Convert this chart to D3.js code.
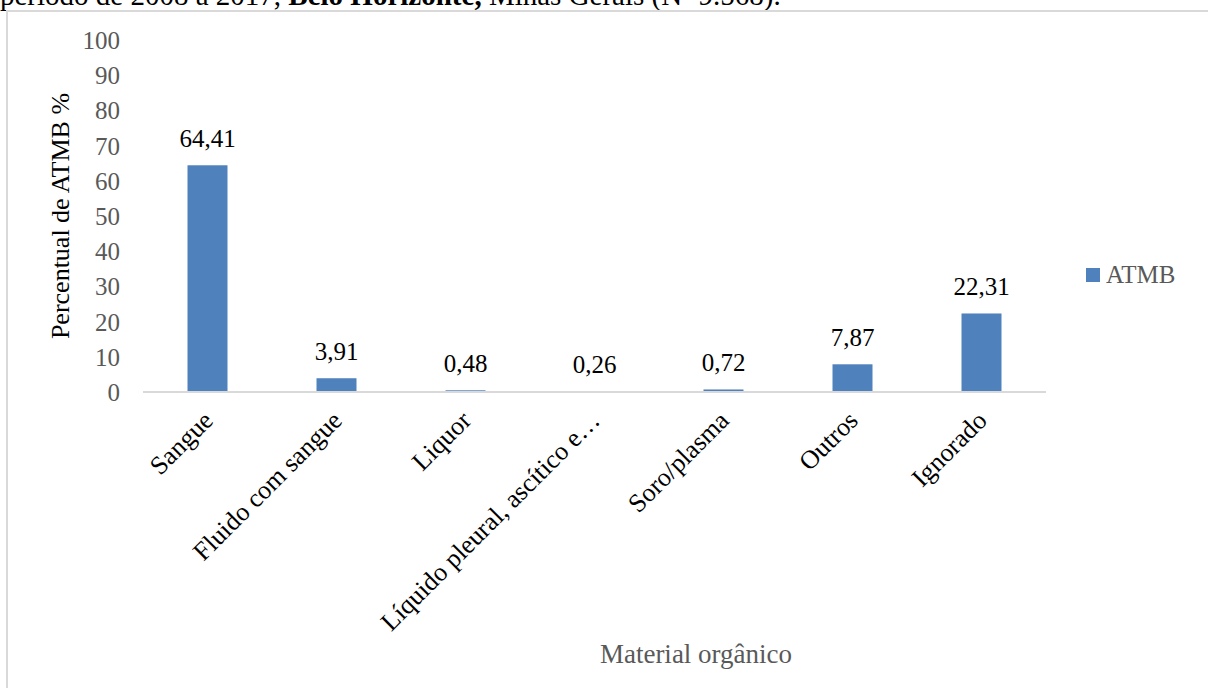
<!DOCTYPE html>
<html>
<head>
<meta charset="utf-8">
<script src="https://cdn.jsdelivr.net/npm/d3@7"></script>
<style>
  html, body { margin: 0; padding: 0; background: #fff; }
  svg { display: block; }
  svg text { font-family: "Liberation Serif", "Times New Roman", serif !important; }
</style>
</head>
<body>
<svg id="chart" width="1208" height="688"></svg>
<script>
const categories = ["Sangue", "Fluido com sangue", "Liquor", "Líquido pleural, ascítico e…", "Soro/plasma", "Outros", "Ignorado"];
const values = [64.41, 3.91, 0.48, 0.26, 0.72, 7.87, 22.31];
const valueLabels = ["64,41", "3,91", "0,48", "0,26", "0,72", "7,87", "22,31"];
const yTicks = [0, 10, 20, 30, 40, 50, 60, 70, 80, 90, 100];
const seriesName = "ATMB";
const yTitle = "Percentual de ATMB %";
const xTitle = "Material orgânico";
const captionParts = ["período de 2008 a 2017, ", "Belo Horizonte,", " Minas Gerais (N=9.568)."];
const captionBold = [false, true, false];

const svg = d3.select("#chart");
const margin = { left: 143, right: 1046, top: 40, bottom: 392 };

// caption (cut off at top)
const cap = svg.append("text").attr("x", 0).attr("y", 5)
  .attr("font-size", 29).attr("fill", "#000").attr("xml:space", "preserve")
  .style("white-space", "pre");
cap.selectAll("tspan").data(captionParts).join("tspan")
  .attr("font-weight", (d, i) => captionBold[i] ? "bold" : "normal")
  .text(d => d);

// frame
svg.append("rect").attr("x", 7).attr("y", 11).attr("width", 1220).attr("height", 700)
  .attr("fill", "none").attr("stroke", "#D9D9D9").attr("stroke-width", 2);

const x = d3.scaleBand().domain(categories).range([margin.left, margin.right]).paddingInner(0.69).paddingOuter(0.345);
const y = d3.scaleLinear().domain([0, 100]).range([margin.bottom, margin.top]);

// y axis (labels only)
const yAxis = d3.axisLeft(y).tickValues(yTicks).tickSize(0).tickPadding(0).tickFormat(d3.format("d"));
const gy = svg.append("g").attr("transform", "translate(120,0)").call(yAxis);
gy.select(".domain").remove();
gy.selectAll("text").attr("font-size", 25).attr("fill", "#595959").attr("dy", "0.34em");

// bars
svg.append("g").selectAll("rect").data(values).join("rect")
  .attr("x", (d, i) => x(categories[i]))
  .attr("y", d => y(d))
  .attr("width", x.bandwidth())
  .attr("height", d => y(0) - y(d))
  .attr("fill", "#4F81BD");

// x axis
const xAxis = d3.axisBottom(x).tickSize(0).tickPadding(0);
const gx = svg.append("g").attr("transform", `translate(0,${y(0)})`).call(xAxis);
gx.select(".domain").attr("stroke", "#D9D9D9").attr("stroke-width", 2).attr("d", `M${margin.left},0H${margin.right}`);
gx.selectAll(".tick text")
  .attr("font-size", 26).attr("fill", "#000")
  .attr("text-anchor", "end")
  .attr("transform", "translate(7,30) rotate(-45)")
  .attr("dy", 0).attr("y", 0);

// data labels
svg.append("g").selectAll("text").data(values).join("text")
  .attr("x", (d, i) => x(categories[i]) + x.bandwidth() / 2)
  .attr("y", d => y(d) - 18)
  .attr("text-anchor", "middle")
  .attr("font-size", 25).attr("fill", "#000")
  .text((d, i) => valueLabels[i]);

// y title
svg.append("text")
  .attr("transform", "translate(69,216) rotate(-90)")
  .attr("text-anchor", "middle")
  .attr("font-size", 26).attr("fill", "#000")
  .text(yTitle);

// x title
svg.append("text").attr("x", 696).attr("y", 663)
  .attr("text-anchor", "middle")
  .attr("font-size", 27).attr("fill", "#595959")
  .text(xTitle);

// legend
const lg = svg.append("g").attr("transform", "translate(1086,268)");
lg.append("rect").attr("width", 14).attr("height", 14).attr("fill", "#4F81BD");
lg.append("text").attr("x", 20).attr("y", 15).attr("font-size", 25).attr("fill", "#595959").text(seriesName);
</script>
</body>
</html>
